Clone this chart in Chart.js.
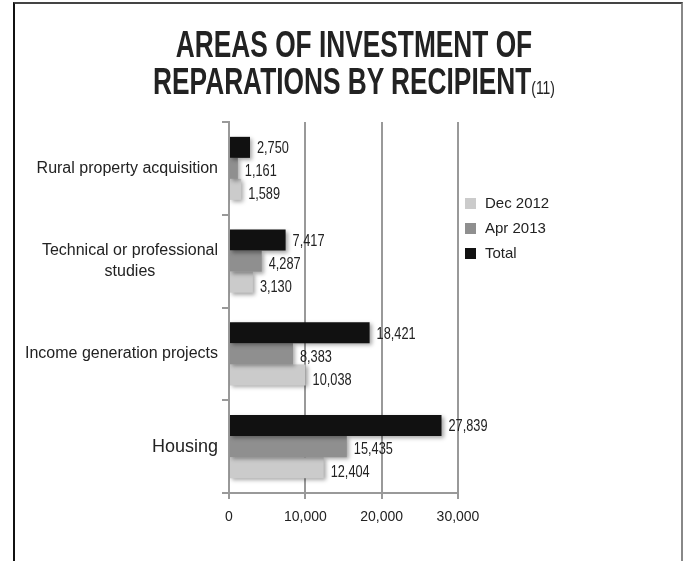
<!DOCTYPE html>
<html>
<head>
<meta charset="utf-8">
<script src="https://cdn.jsdelivr.net/npm/chart.js@4.4.1/dist/chart.umd.min.js"></script>
<style>
body{margin:0;background:#fff;font-family:"Liberation Sans",Arial,sans-serif;}
#wrap{position:relative;width:683px;height:561px;overflow:hidden;}
#frame{position:absolute;left:13px;top:2px;width:666px;height:640px;border-left:2px solid #111;border-top:2px solid #444;border-right:2px solid #888;}
#title{position:absolute;left:0;top:26px;width:708px;text-align:center;font-weight:bold;font-size:36px;line-height:37px;color:#222;transform:scaleX(0.73);transform-origin:354px 0;white-space:nowrap;}
#title span{font-size:19px;font-weight:normal;}
canvas{position:absolute;left:0;top:0;}
#legend{position:absolute;left:465px;top:193px;font-size:15px;color:#222;}
#legend div{height:25px;line-height:20px;white-space:nowrap;}
#legend i{display:inline-block;width:11px;height:11px;margin-right:9px;vertical-align:-1px;}
</style>
</head>
<body>
<div id="wrap">
  <div id="frame"></div>
  <canvas id="myChart" width="683" height="561"></canvas>
  <div id="title">AREAS OF INVESTMENT OF<br>REPARATIONS BY RECIPIENT<span>(11)</span></div>
  <div id="legend"></div>
</div>
<script>
// data
const categories = [['Rural property acquisition'], ['Technical or professional', 'studies'], ['Income generation projects'], ['Housing']]
const seriesNames = ['Total', 'Apr 2013', 'Dec 2012']
const total = [2750, 7417, 18421, 27839]
const apr2013 = [1161, 4287, 8383, 15435]
const dec2012 = [1589, 3130, 10038, 12404]
const xTicks = [0, 10000, 20000, 30000]

const colors = ['#111111', '#8f8f8f', '#cbcbcb']
const fontFamily = '"Liberation Sans", Arial, sans-serif'

// soft drop shadow under the bars
const shadowPlugin = {
    id: 'barShadow',
    beforeDatasetsDraw(chart){
        const ctx = chart.ctx
        ctx.save()
        ctx.shadowColor = 'rgba(0,0,0,0.35)'
        ctx.shadowBlur = 4
        ctx.shadowOffsetX = 2
        ctx.shadowOffsetY = 2
    },
    afterDatasetsDraw(chart){
        chart.ctx.restore()
    }
}

// value labels at the end of each bar (narrow type, like the original)
const valueLabels = {
    id: 'valueLabels',
    afterDatasetsDraw(chart){
        const ctx = chart.ctx
        ctx.save()
        ctx.font = '17px ' + fontFamily
        ctx.fillStyle = '#222'
        ctx.textAlign = 'left'
        ctx.textBaseline = 'middle'
        chart.data.datasets.forEach((ds, di)=>{
            chart.getDatasetMeta(di).data.forEach((bar, i)=>{
                ctx.save()
                ctx.translate(bar.x + 7, bar.y + 1 + di * 2)
                ctx.scale(0.75, 1)
                ctx.fillText(ds.data[i].toLocaleString('en-US'), 0, 0)
                ctx.restore()
            })
        })
        ctx.restore()
    }
}

// category labels: block right aligned to the axis, lines centred in the block
const categoryLabels = {
    id: 'categoryLabels',
    afterDraw(chart){
        const y = chart.scales.y
        const ctx = chart.ctx
        ctx.save()
        ctx.fillStyle = '#222'
        ctx.textAlign = 'center'
        ctx.textBaseline = 'middle'
        categories.forEach((lines, i)=>{
            const size = lines[0] == 'Housing' ? 18 : 16
            ctx.font = size + 'px ' + fontFamily
            const w = Math.max(...lines.map(l=>ctx.measureText(l).width))
            const cx = y.right - 11 - w / 2
            const cy = y.getPixelForTick(i)
            const lh = size * 1.3
            lines.forEach((l, k)=>{
                ctx.fillText(l, cx, cy + (k - (lines.length - 1) / 2) * lh)
            })
        })
        ctx.restore()
    }
}

const ctx = document.getElementById('myChart')
const myChart = new Chart(ctx, {
    type: 'bar',
    data: {
        labels: categories,
        datasets: [
            {label: seriesNames[0], data: total, backgroundColor: colors[0]},
            {label: seriesNames[1], data: apr2013, backgroundColor: colors[1]},
            {label: seriesNames[2], data: dec2012, backgroundColor: colors[2]}
        ]
    },
    options: {
        indexAxis: 'y',
        responsive: false,
        animation: false,
        categoryPercentage: 0.68,
        barPercentage: 1,
        layout: {padding: {top: 122, right: 225, left: 0, bottom: 0}},
        plugins: {
            legend: {display: false},
            tooltip: {enabled: false}
        },
        scales: {
            x: {
                min: 0,
                max: 30000,
                afterBuildTicks: s=>{ s.ticks = xTicks.map(v=>({value: v})) },
                afterFit: s=>{ s.height = 68 },
                ticks: {
                    color: '#222',
                    padding: 10,
                    font: {size: 14, family: fontFamily},
                    callback: v=>v.toLocaleString('en-US')
                },
                grid: {color: '#999', lineWidth: 2, tickLength: 6},
                border: {color: '#999', width: 2}
            },
            y: {
                afterFit: s=>{ s.width = 229 },
                ticks: {display: false},
                grid: {drawOnChartArea: false, offset: true, color: '#999', lineWidth: 2, tickLength: 7},
                border: {color: '#999', width: 2}
            }
        }
    },
    plugins: [shadowPlugin, valueLabels, categoryLabels]
})

// legend, listed bottom series first as in the original
const legend = document.getElementById('legend')
myChart.data.datasets.slice().reverse().forEach(ds=>{
    const row = document.createElement('div')
    row.innerHTML = '<i style="background:' + ds.backgroundColor + '"></i>' + ds.label
    legend.appendChild(row)
})
</script>
</body>
</html>
